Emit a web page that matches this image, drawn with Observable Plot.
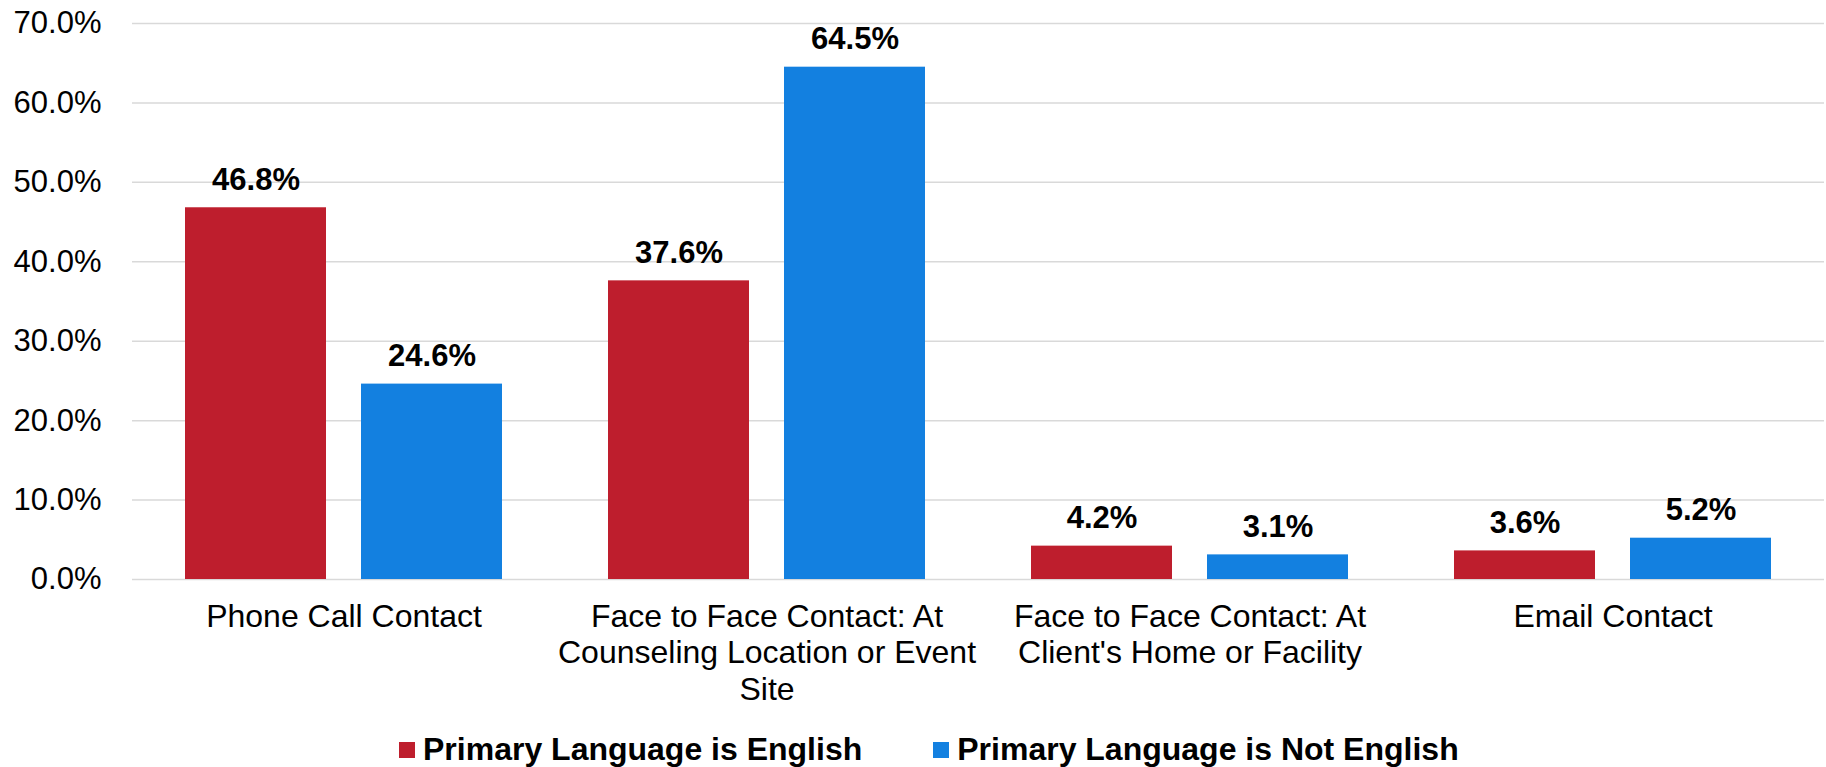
<!DOCTYPE html>
<html>
<head>
<meta charset="utf-8">
<script src="https://cdn.jsdelivr.net/npm/d3@7"></script>
<script src="https://cdn.jsdelivr.net/npm/@observablehq/plot@0.6"></script>
<style>
  html, body { margin: 0; padding: 0; background: #fff; }
  body { width: 1826px; height: 767px; overflow: hidden; font-family: "Liberation Sans", Arial, sans-serif; }
  #legend { display: flex; align-items: center; height: 55px; padding-left: 399px; box-sizing: border-box; padding-top: 20px; }
  .item { display: flex; align-items: center; font-weight: bold; font-size: 32px; color: #000; }
  .sw { width: 16px; height: 16px; margin-right: 8px; }
  .item + .item { margin-left: 71px; }
</style>
</head>
<body>
<div id="chart"></div>
<div id="legend"></div>
<script>
const categories = [
  "Phone Call Contact",
  "Face to Face Contact: At Counseling Location or Event Site",
  "Face to Face Contact: At Client's Home or Facility",
  "Email Contact"
];
const categoryLines = [
  ["Phone Call Contact"],
  ["Face to Face Contact: At", "Counseling Location or Event", "Site"],
  ["Face to Face Contact: At", "Client's Home or Facility"],
  ["Email Contact"]
];
const series = ["Primary Language is English", "Primary Language is Not English"];
const english = [46.8, 37.6, 4.2, 3.6];
const notEnglish = [24.6, 64.5, 3.1, 5.2];
const yTicks = [0, 10, 20, 30, 40, 50, 60, 70];
const colors = ["#BE1E2D", "#1380E0"];

const data = [];
categories.forEach((c, i) => {
  data.push({category: c, series: series[0], value: english[i]});
  data.push({category: c, series: series[1], value: notEnglish[i]});
});
const labelOf = new Map(categories.map((c, i) => [c, categoryLines[i].join("\n")]));

const chart = Plot.plot({
  width: 1826,
  height: 712,
  marginLeft: 131,
  marginRight: 2,
  marginTop: 23,
  marginBottom: 133,
  style: {fontFamily: "'Liberation Sans', Arial, sans-serif", fontSize: "31px", color: "#000", background: "#fff"},
  fx: {domain: categories, padding: 0, label: null},
  x: {domain: series, paddingInner: 0.2, paddingOuter: 0.3, axis: null},
  y: {domain: [0, 70], label: null},
  color: {domain: series, range: colors},
  marks: [
    Plot.ruleY(yTicks, {stroke: "#d9d9d9", strokeWidth: 1.5}),
    Plot.barY(data, {fx: "category", x: "series", y: "value", fill: "series"}),
    Plot.text(data, {
      fx: "category", x: "series", y: "value",
      text: d => d.value.toFixed(1) + "%",
      dy: -18, lineAnchor: "bottom", fontWeight: "bold", fontSize: 31, fill: "#000"
    }),
    Plot.axisY({ticks: yTicks, tickFormat: d => d.toFixed(1) + "%", tickSize: 0, tickPadding: 31, fontSize: 31, label: null}),
    Plot.axisFx({anchor: "bottom", tickSize: 0, tickPadding: 21, fontSize: 32, lineHeight: 1.15, tickFormat: c => labelOf.get(c), label: null})
  ]
});
document.getElementById("chart").appendChild(chart);

const legend = document.getElementById("legend");
series.forEach((s, i) => {
  const item = document.createElement("div");
  item.className = "item";
  const sw = document.createElement("span");
  sw.className = "sw";
  sw.style.background = colors[i];
  const t = document.createElement("span");
  t.textContent = s;
  item.appendChild(sw);
  item.appendChild(t);
  legend.appendChild(item);
});
</script>
</body>
</html>
